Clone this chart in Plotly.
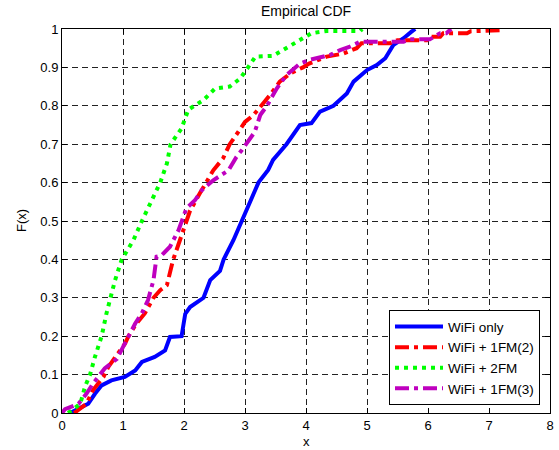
import plotly.graph_objects as go

# ---- data (x, F(x)) ----
wifi_only_x = [0.13, 0.43, 0.54, 0.65, 0.81, 1.03, 1.20, 1.31, 1.52, 1.69, 1.77, 1.96, 2.02, 2.10,
               2.32, 2.43, 2.59, 2.65, 2.81, 2.95, 3.07, 3.22, 3.38, 3.46, 3.68, 3.90, 4.09, 4.23,
               4.45, 4.67, 4.78, 5.00, 5.16, 5.30, 5.43, 5.60, 5.73, 5.79]
wifi_only_f = [0.0, 0.024, 0.05, 0.072, 0.085, 0.094, 0.111, 0.133, 0.146, 0.163, 0.198, 0.2, 0.258, 0.276,
               0.3, 0.346, 0.37, 0.4, 0.45, 0.5, 0.546, 0.6, 0.633, 0.659, 0.7, 0.75, 0.755, 0.785,
               0.8, 0.832, 0.863, 0.893, 0.906, 0.924, 0.958, 0.976, 0.993, 1.0]

fm2_x = [0.20, 0.40, 0.51, 0.68, 0.76, 0.87, 1.03, 1.09, 1.22, 1.36, 1.50, 1.61, 1.72, 1.82, 1.93,
         2.03, 2.10, 2.26, 2.37, 2.48, 2.64, 2.75, 2.89, 3.00, 3.14, 3.27, 3.41, 3.57, 3.75, 3.95,
         4.05, 4.34, 4.61, 4.83, 4.91, 5.38, 5.50, 5.98, 6.03, 6.20, 6.25, 6.64, 6.70, 7.23]
fm2_f = [0.0, 0.024, 0.06, 0.094, 0.12, 0.146, 0.18, 0.2, 0.233, 0.26, 0.3, 0.32, 0.333, 0.398, 0.45,
         0.5, 0.527, 0.572, 0.6, 0.632, 0.663, 0.7, 0.732, 0.758, 0.776, 0.8, 0.828, 0.863, 0.885, 0.9,
         0.91, 0.928, 0.936, 0.95, 0.963, 0.963, 0.971, 0.971, 0.98, 0.98, 0.989, 0.989, 0.994, 0.997]

fm2x_x = [0.10, 0.30, 0.38, 0.46, 0.54, 0.65, 0.73, 0.79, 0.87, 0.98, 1.17, 1.31, 1.47, 1.61, 1.72,
          1.78, 1.96, 2.07, 2.32, 2.51, 2.75, 2.92, 3.05, 3.17, 3.46, 3.70, 3.90, 4.09, 4.34, 4.89, 4.92]
fm2x_f = [0.0, 0.024, 0.07, 0.1, 0.146, 0.2, 0.26, 0.3, 0.346, 0.4, 0.45, 0.5, 0.554, 0.6, 0.65,
          0.7, 0.741, 0.79, 0.815, 0.845, 0.85, 0.871, 0.9, 0.928, 0.93, 0.952, 0.971, 0.989, 0.995, 0.995, 1.0]

fm3_x = [0.0, 0.05, 0.27, 0.40, 0.51, 0.70, 0.90, 1.00, 1.09, 1.20, 1.31, 1.41, 1.50, 1.55, 1.63,
         1.77, 1.91, 1.96, 2.04, 2.18, 2.29, 2.48, 2.73, 2.86, 2.95, 3.16, 3.25, 3.36, 3.52, 3.68,
         3.90, 4.07, 4.39, 4.56, 4.72, 4.89, 5.60, 5.70, 6.03, 6.20, 6.30, 6.38]
fm3_f = [0.0, 0.01, 0.024, 0.05, 0.077, 0.116, 0.141, 0.172, 0.2, 0.233, 0.26, 0.294, 0.346, 0.407, 0.41,
         0.433, 0.476, 0.5, 0.533, 0.554, 0.58, 0.606, 0.632, 0.667, 0.685, 0.732, 0.776, 0.8, 0.845, 0.88,
         0.91, 0.92, 0.932, 0.945, 0.954, 0.967, 0.967, 0.973, 0.973, 0.989, 0.989, 1.0]

x_ticks = [0, 1, 2, 3, 4, 5, 6, 7, 8]
y_ticks = [0, 0.1, 0.2, 0.3, 0.4, 0.5, 0.6, 0.7, 0.8, 0.9, 1]
y_tick_text = ["0", "0.1", "0.2", "0.3", "0.4", "0.5", "0.6", "0.7", "0.8", "0.9", "1"]

FONT = "Liberation Sans, Arial, Helvetica, sans-serif"

fig = go.Figure()
fig.add_trace(go.Scatter(x=wifi_only_x, y=wifi_only_f, mode="lines", name="WiFi only",
                         line=dict(color="#0000FF", width=4)))
fig.add_trace(go.Scatter(x=fm2_x, y=fm2_f, mode="lines", name="WiFi + 1FM(2)",
                         line=dict(color="#FF0000", width=4, dash="14px,5px,4px,5px")))
fig.add_trace(go.Scatter(x=fm2x_x, y=fm2x_f, mode="lines", name="WiFi + 2FM",
                         line=dict(color="#00FF00", width=4, dash="4px,5px")))
fig.add_trace(go.Scatter(x=fm3_x, y=fm3_f, mode="lines", name="WiFi + 1FM(3)",
                         line=dict(color="#BF00BF", width=4, dash="14px,5px,4px,5px")))

axis_common = dict(
    showline=True, linecolor="black", linewidth=1, mirror="ticks",
    ticks="inside", ticklen=5, tickcolor="black",
    showgrid=True, gridcolor="#222222", gridwidth=1, griddash="6px,4px",
    zeroline=False, tickfont=dict(family=FONT, size=13, color="black"),
    automargin=False,
)

fig.update_xaxes(range=[0, 8], tickvals=x_ticks, **axis_common)
fig.update_yaxes(range=[0, 1], tickvals=y_ticks, ticktext=y_tick_text, **axis_common)

# axis titles placed as annotations for exact positioning
fig.add_annotation(text="x", xref="paper", yref="paper", x=0.5, y=-0.073,
                   xanchor="center", yanchor="middle", showarrow=False, borderpad=0,
                   font=dict(family=FONT, size=13, color="black"))
fig.add_annotation(text="F(x)", xref="paper", yref="paper", x=-0.084, y=0.5,
                   xanchor="center", yanchor="middle", textangle=-90, showarrow=False,
                   font=dict(family=FONT, size=13, color="black"))

fig.update_layout(
    width=559, height=450,
    margin=dict(l=62, r=9, t=29, b=37, autoexpand=False),
    paper_bgcolor="white", plot_bgcolor="white",
    font=dict(family=FONT, color="black"),
    title=dict(text="Empirical CDF", x=0.5, xref="paper", xanchor="center",
               y=1 - 11 / 450, yref="container", yanchor="middle",
               font=dict(family=FONT, size=14, color="black")),
    legend=dict(x=0.9795, y=0.02, xanchor="right", yanchor="bottom",
                bgcolor="white", bordercolor="black", borderwidth=1,
                font=dict(family=FONT, size=13.5, color="black"), itemwidth=48),
    showlegend=True,
)

fig.write_html("out.html", config={"displayModeBar": False},
               post_script="document.body.style.margin='0px';")
